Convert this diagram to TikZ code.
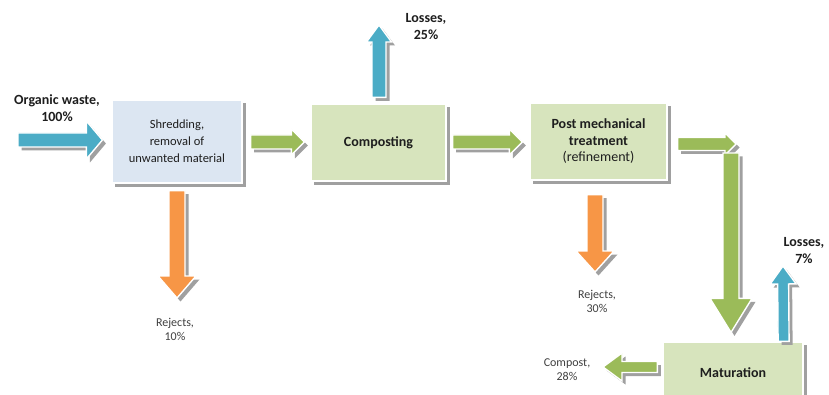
\documentclass[tikz,border=0pt]{standalone}
\usepackage{fontspec}
\setmainfont{Carlito}
\usetikzlibrary{calc,backgrounds}
\definecolor{flowblue}{HTML}{4BACC6}
\definecolor{flowgreen}{HTML}{9BBB59}
\definecolor{floworange}{HTML}{F79646}
\definecolor{boxblue}{HTML}{DCE6F2}
\definecolor{boxgreen}{HTML}{D7E4BD}
\definecolor{shadowgray}{HTML}{A0A0A0}
\definecolor{txt}{HTML}{1E1E1E}
\newcommand\fsz[2]{\fontsize{#1}{#2}\selectfont}
% block arrow: from, to, shaft half width, head half width, head length, colour
\newcommand\barrow[6]{%
  \coordinate (bq) at ($(#2)!#5!(#1)$);
  \fill[shadowgray, transform canvas={shift={(3.5pt,-3.5pt)}}]
    ($(#1)!#3!90:(#2)$) -- ($(bq)!#3!-90:(#1)$) -- ($(bq)!#4!-90:(#1)$) -- (#2)
    -- ($(bq)!#4!90:(#1)$) -- ($(bq)!#3!90:(#1)$) -- ($(#1)!#3!-90:(#2)$) -- cycle;
  \filldraw[fill=#6, draw=white, line width=1.4pt, line join=miter]
    ($(#1)!#3!90:(#2)$) -- ($(bq)!#3!-90:(#1)$) -- ($(bq)!#4!-90:(#1)$) -- (#2)
    -- ($(bq)!#4!90:(#1)$) -- ($(bq)!#3!90:(#1)$) -- ($(#1)!#3!-90:(#2)$) -- cycle;
}
\newcommand\boxshadow[1]{%
  \fill[shadowgray] ($(#1.south west)+(3.5,3.5)$) rectangle ($(#1.north east)+(3.5,3.5)$);
}
\tikzset{
  procbox/.style={rectangle, draw=white, line width=1.2pt, align=center, text=txt},
  biglabel/.style={align=center, text=txt, font=\bfseries\fsz{14}{17}},
  smalllabel/.style={align=center, text=txt!85, font=\fsz{12}{14}}
}
\begin{document}
\begin{tikzpicture}[x=1pt, y=-1pt]
\useasboundingbox (0,0) rectangle (829,395);

% process boxes
\node[procbox, fill=boxblue, minimum width=130pt, minimum height=83pt,
      font=\fsz{12.5}{17}] (shred) at (177,141.5)
      {Shredding,\\removal of\\unwanted material};
\node[procbox, fill=boxgreen, minimum width=135pt, minimum height=77pt,
      font=\bfseries\fsz{14}{17}] (comp) at (378.5,142.5) {Composting};
\node[procbox, fill=boxgreen, minimum width=137pt, minimum height=77pt,
      font=\fsz{14}{16.5}] (post) at (598.5,141.5)
      {\textbf{Post mechanical}\\\textbf{treatment}\\(refinement)};
\node[procbox, fill=boxgreen, minimum width=140pt, minimum height=62pt,
      font=\bfseries\fsz{14}{17}, text depth=0pt] (mat) at (733,373) {Maturation};

\begin{scope}[on background layer]
  \fill[white] (0,0) rectangle (829,395);
  \boxshadow{shred}
  \boxshadow{comp}
  \boxshadow{post}
  \boxshadow{mat}
\end{scope}

% labels
\node[biglabel] (organic) at (57,108.5) {Organic waste,\\100\%};
\node[biglabel] (loss25) at (426,27) {Losses,\\25\%};
\node[biglabel] (loss7) at (804,251) {Losses,\\7\%};
\node[smalllabel] (rej10) at (175,329) {Rejects,\\10\%};
\node[smalllabel] (rej30) at (597,301) {Rejects,\\30\%};
\node[smalllabel] (compost) at (567,370) {Compost,\\28\%};

% arrow end points
\coordinate (inA) at (18,140);
\coordinate (inB) at ($(shred.west)+(-9,-1.5)$);
\coordinate (g1A) at ($(shred.east)+(8,0.5)$);
\coordinate (g1B) at ($(comp.west)+(-6,-0.5)$);
\coordinate (l25A) at ($(comp.north)+(0.5,-6)$);
\coordinate (l25B) at (379,25);
\coordinate (g2A) at ($(comp.east)+(6,-0.5)$);
\coordinate (g2B) at ($(post.west)+(-7,0.5)$);
\coordinate (r10A) at ($(shred.south)+(0,7)$);
\coordinate (r10B) at (177,298);
\coordinate (r30A) at ($(post.south)+(-3.5,14)$);
\coordinate (r30B) at (595,272);
\coordinate (g3A) at ($(post.east)+(10,2.5)$);
\coordinate (g3B) at (736,144);
\coordinate (g4A) at (731,153);
\coordinate (g4B) at ($(mat.north)+(-2,-9)$);
\coordinate (l7A) at ($(mat.north east)+(-20,0)$);
\coordinate (l7B) at (783,266);
\coordinate (cpA) at ($(mat.west)+(-5,-6)$);
\coordinate (cpB) at (603,367);

% block arrows
\barrow{inA}{inB}{7pt}{19pt}{16pt}{flowblue}
\barrow{g1A}{g1B}{7pt}{13pt}{13pt}{flowgreen}
\barrow{l25A}{l25B}{7pt}{12.5pt}{17pt}{flowblue}
\barrow{g2A}{g2B}{7pt}{13pt}{13pt}{flowgreen}
\barrow{r10A}{r10B}{8pt}{19pt}{22pt}{floworange}
\barrow{r30A}{r30B}{8pt}{19pt}{21pt}{floworange}
\barrow{g3A}{g3B}{6.5pt}{11pt}{11pt}{flowgreen}
\barrow{g4A}{g4B}{8pt}{21pt}{34pt}{flowgreen}
\barrow{l7A}{l7B}{5.5pt}{13pt}{18pt}{flowblue}
\barrow{cpA}{cpB}{5.5pt}{14pt}{19pt}{flowgreen}
\end{tikzpicture}
\end{document}
